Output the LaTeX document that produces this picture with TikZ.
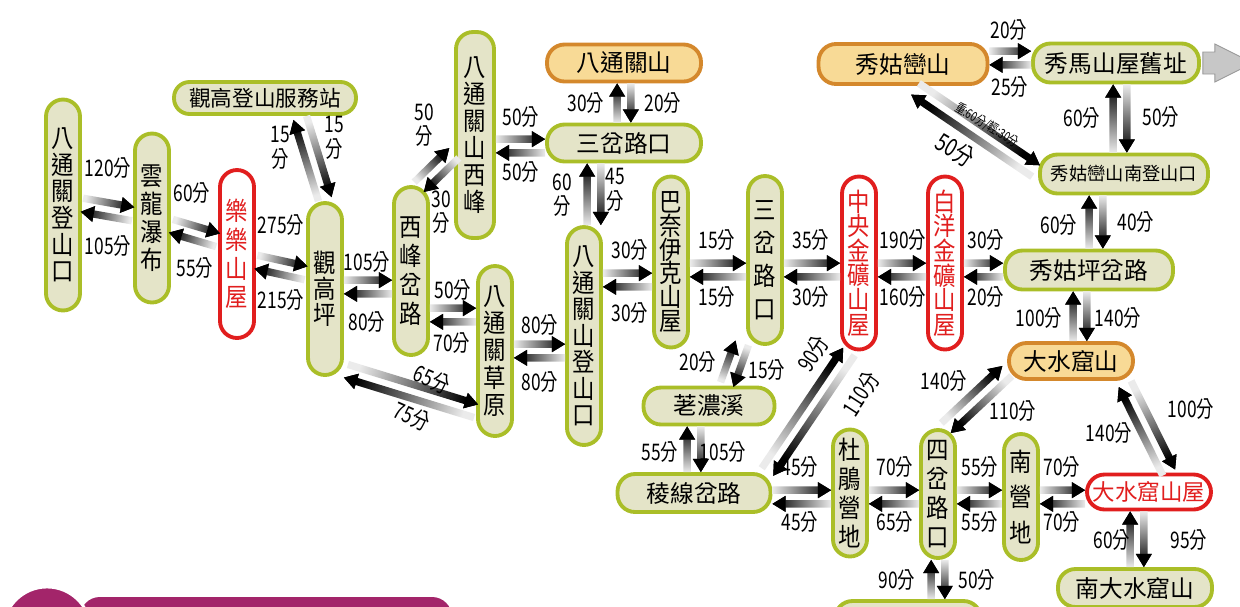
\documentclass[tikz,border=0pt]{standalone}
\usepackage{fontspec}
\newfontfamily\nodefam{Noto Sans CJK TC}
\newfontfamily\vertfam[FakeStretch=0.88]{Noto Sans CJK TC}
\newfontfamily\lblfam[FakeStretch=0.76]{Noto Sans CJK TC}
\usepackage{tikz}
\usetikzlibrary{calc}
\definecolor{olv}{RGB}{170,190,40}
\definecolor{pale}{RGB}{228,228,200}
\definecolor{hutred}{RGB}{225,30,30}
\definecolor{peakfill}{RGB}{248,218,150}
\definecolor{peakline}{RGB}{212,136,44}
\definecolor{plum}{RGB}{163,37,106}

% one shaded arrow, light tail to black head
\makeatletter
\newcommand\garr[2]{%
  \coordinate (gA) at (#1);
  \coordinate (gB) at (#2);
  \pgfmathanglebetweenpoints{\pgfpointanchor{gA}{center}}{\pgfpointanchor{gB}{center}}%
  \edef\gang{\pgfmathresult}%
  \pgfpointdiff{\pgfpointanchor{gA}{center}}{\pgfpointanchor{gB}{center}}%
  \edef\gdx{\the\pgf@x}\edef\gdy{\the\pgf@y}%
  \pgfmathsetmacro\glen{veclen(\gdx,\gdy)}%
  \pgfmathsetmacro\gsh{\gang+90}%
  \shade[left color=black!8, right color=black, shading angle=\gsh, shift={(gA)}, rotate=\gang]
    (0pt,-2.1pt) -- ({\glen pt-7.5pt},-2.1pt) -- ({\glen pt-7.5pt},-4.6pt) -- (\glen pt,0pt)
    -- ({\glen pt-7.5pt},4.6pt) -- ({\glen pt-7.5pt},2.1pt) -- (0pt,2.1pt) -- cycle;
  \fill[shift={(gA)}, rotate=\gang]
    ({\glen pt-7.5pt},-4.6pt) -- (\glen pt,0pt) -- ({\glen pt-7.5pt},4.6pt) -- cycle;
}
\makeatother
% two arrows side by side, one each way
\newcommand\gpair[2]{%
  \coordinate (pA) at (#1);
  \coordinate (pB) at (#2);
  \garr{$(pA)!3.9pt!90:(pB)$}{$(pB)!3.9pt!-90:(pA)$}
  \garr{$(pB)!3.9pt!90:(pA)$}{$(pA)!3.9pt!-90:(pB)$}
}

\tikzset{
  base/.style={draw=olv, line width=2.2pt, fill=pale, inner sep=0pt, align=center,
    font=\nodefam\fontsize{13.5}{15.5}\selectfont},
  vsp/.style={font=\vertfam\fontsize{14.5}{#1}\selectfont},
  vbox/.style={base, minimum width=0.68cm, minimum height=#1, rounded corners=0.34cm},
  hbox/.style={base, minimum height=0.76cm, minimum width=#1, rounded corners=0.35cm},
  hut/.style={draw=hutred, fill=white, text=hutred},
  peak/.style={draw=peakline, fill=peakfill},
  lbl/.style={font=\lblfam\fontsize{13}{14}\selectfont, inner sep=0pt, align=center},
}

\begin{document}
\begin{tikzpicture}[x=0.02cm, y=-0.02cm]
\useasboundingbox (0,0) rectangle (1240,606);

% purple title tab, cut by the page edge
\fill[plum, rounded corners=0.4cm] (80,597) rectangle (452,660);
\filldraw[fill=plum, draw=white, line width=1.6pt] (47,631) circle[radius=0.88cm];

% huts, junctions and peaks
\node[vbox=4.22cm, vsp=15.1] (bt) at (63,205) {八\\通\\關\\登\\山\\口};
\node[vbox=3.38cm, vsp=15.9] (yl) at (152,218) {雲\\龍\\瀑\\布};
\node[vbox=3.36cm, hut, vsp=16.4] (ll) at (237,254) {樂\\樂\\山\\屋};
\node[hbox=3.64cm, minimum height=0.64cm, rounded corners=0.31cm,
      font=\nodefam\fontsize{12.3}{14}\selectfont] (gs) at (265,98) {觀高登山服務站};
\node[vbox=3.44cm, vsp=14.7] (gg) at (325,289) {觀\\高\\坪};
\node[vbox=3.36cm, vsp=16.4] (xf) at (411,271) {西\\峰\\岔\\路};
\node[vbox=4.12cm, minimum width=0.76cm, vsp=15.3] (xfs) at (475,135) {八\\通\\關\\山\\西\\峰};
\node[hbox=3.08cm, minimum height=0.74cm, peak] (bts) at (624,63) {八通關山};
\node[hbox=3.08cm, minimum height=0.74cm] (sc1) at (624,143) {三岔路口};
\node[vbox=3.4cm, vsp=15.6] (cy) at (495,351) {八\\通\\關\\草\\原};
\node[vbox=4.36cm, vsp=15.1] (dk) at (584,336) {八\\通\\關\\山\\登\\山\\口};
\node[vbox=3.42cm, vsp=13.5] (bn) at (671,262) {巴\\奈\\伊\\克\\山\\屋};
\node[vbox=3.36cm, vsp=18.7] (sc2) at (765,260) {三\\岔\\路\\口};
\node[vbox=3.46cm, hut, vsp=14] (zy) at (859,263) {中\\央\\金\\礦\\山\\屋};
\node[vbox=3.46cm, hut, vsp=14] (by) at (945,263) {白\\洋\\金\\礦\\山\\屋};
\node[hbox=3.36cm, minimum height=0.78cm] (xp) at (1089,270) {秀姑坪岔路};
\node[hbox=3.36cm, minimum height=0.78cm,
      font=\nodefam\fontsize{10.4}{12}\selectfont] (xn) at (1124,174) {秀姑巒山南登山口};
\node[hbox=3.32cm, minimum height=0.78cm] (xm) at (1116,63) {秀馬山屋舊址};
\node[hbox=3.38cm, minimum height=0.8cm, peak] (xg) at (903,64) {秀姑巒山};
\node[hbox=2.48cm, minimum height=0.72cm, peak] (ds) at (1071,361) {大水窟山};
\node[hbox=2.62cm, minimum height=0.74cm] (ln) at (709,406) {荖濃溪};
\node[hbox=3.06cm] (lx) at (694,493) {稜線岔路};
\node[vbox=2.54cm, vsp=16.4] (dj) at (850,493) {杜\\鵑\\營\\地};
\node[vbox=2.56cm, vsp=16.4] (sj) at (938,494) {四\\岔\\路\\口};
\node[vbox=2.52cm, vsp=20] (ny) at (1021,497) {南\\營\\地};
\node[hbox=2.48cm, minimum height=0.7cm, hut,
      font=\nodefam\fontsize{12.8}{14}\selectfont] (dsw) at (1149,492) {大水窟山屋};
\node[hbox=3.08cm] (nds) at (1135,588) {南大水窟山};
\node[hbox=2.92cm] (bot) at (908,620) {};

% way on past 秀馬山屋舊址
\draw[fill=black!22, draw=black!40, line width=0.5pt] ($(xm.east)+(2,-11)$) -- ++(12,0)
  -- ++(0,-8) -- ++(38,19) -- ++(-38,19) -- ++(0,-8) -- ++(-12,0) -- cycle;

% walking times
\gpair{bt.east}{$(yl.west)+(0,-4)$}
\node[lbl] (t1a) at (108,168) {120分};
\node[lbl] (t1b) at (108,246) {105分};
\gpair{$(yl.east)+(0,8)$}{$(ll.west)+(0,-14)$}
\node[lbl] (t2a) at (192,193) {60分};
\node[lbl] (t2b) at (195,268) {55分};
\gpair{$(ll.east)+(0,8)$}{$(gg.west)+(0,-16)$}
\node[lbl] (t3a) at (281,225) {275分};
\node[lbl] (t3b) at (281,300) {215分};
\gpair{$(gs.south)+(35,2)$}{$(gg.north)+(0,-2)$}
\node[lbl] (t4a) at (280,148) {15\\分};
\node[lbl] (t4b) at (334,138) {15\\分};
\gpair{$(gg.east)+(0,-2)$}{$(xf.west)+(0,16)$}
\node[lbl] (t5a) at (367,262) {105分};
\node[lbl] (t5b) at (367,322) {80分};
\gpair{$(gg.east)+(2,82)$}{$(cy.west)+(0,60)$}
\node[lbl, rotate=-24] (t6a) at (432,379) {65分};
\node[lbl, rotate=-24] (t6b) at (412,416) {75分};
\gpair{$(xf.north)+(8,2)$}{$(xfs.west)+(0,18)$}
\node[lbl] (t7a) at (424,125) {50\\分};
\node[lbl] (t7b) at (441,212) {30\\分};
\gpair{$(xf.east)+(0,44)$}{$(cy.west)+(0,-36)$}
\node[lbl] (t8a) at (453,290) {50分};
\node[lbl] (t8b) at (452,343) {70分};
\gpair{$(xfs.east)+(0,11)$}{$(sc1.west)+(0,3)$}
\node[lbl] (t9a) at (521,117) {50分};
\node[lbl] (t9b) at (521,172) {50分};
\gpair{bts.south}{sc1.north}
\node[lbl] (t10a) at (586,103) {30分};
\node[lbl] (t10b) at (663,103) {20分};
\gpair{$(sc1.south)+(-30,0)$}{$(dk.north)+(10,0)$}
\node[lbl] (t11a) at (562,195) {60\\分};
\node[lbl] (t11b) at (615,190) {45\\分};
\gpair{cy.east}{$(dk.west)+(0,15)$}
\node[lbl] (t12a) at (540,325) {80分};
\node[lbl] (t12b) at (540,382) {80分};
\gpair{$(dk.east)+(0,-56)$}{$(bn.west)+(0,18)$}
\node[lbl] (t13a) at (630,250) {30分};
\node[lbl] (t13b) at (630,313) {30分};
\gpair{$(bn.east)+(0,8)$}{$(sc2.west)+(0,10)$}
\node[lbl] (t14a) at (717,240) {15分};
\node[lbl] (t14b) at (717,297) {15分};
\gpair{$(sc2.east)+(0,10)$}{$(zy.west)+(0,7)$}
\node[lbl] (t15a) at (811,240) {35分};
\node[lbl] (t15b) at (811,297) {30分};
\gpair{$(zy.east)+(0,7)$}{$(by.west)+(0,7)$}
\node[lbl] (t16a) at (903,240) {190分};
\node[lbl] (t16b) at (903,297) {160分};
\gpair{$(by.east)+(0,7)$}{xp.west}
\node[lbl] (t17a) at (986,240) {30分};
\node[lbl] (t17b) at (986,297) {20分};
\gpair{$(sc2.south)+(-23,-3)$}{$(ln.north)+(18,-1)$}
\node[lbl] (t18a) at (698,362) {20分};
\node[lbl] (t18b) at (767,370) {15分};
\gpair{$(lx.north east)+(-5,0)$}{$(zy.south)+(-10,0)$}
\node[lbl, rotate=57] (t19a) at (813,354) {90分};
\node[lbl, rotate=57] (t19b) at (861,394) {110分};
\gpair{$(ln.south)+(-15,0)$}{lx.north}
\node[lbl] (t20a) at (660,452) {55分};
\node[lbl] (t20b) at (723,452) {105分};
\gpair{$(lx.east)+(0,4)$}{$(dj.west)+(0,4)$}
\node[lbl] (t21a) at (800,467) {45分};
\node[lbl] (t21b) at (800,522) {45分};
\gpair{$(dj.east)+(0,4)$}{$(sj.west)+(0,3)$}
\node[lbl] (t22a) at (895,467) {70分};
\node[lbl] (t22b) at (895,522) {65分};
\gpair{$(sj.east)+(0,3)$}{ny.west}
\node[lbl] (t23a) at (980,467) {55分};
\node[lbl] (t23b) at (980,522) {55分};
\gpair{ny.east}{$(dsw.west)+(0,5)$}
\node[lbl] (t24a) at (1062,467) {70分};
\node[lbl] (t24b) at (1062,522) {70分};
\gpair{$(sj.north)+(8,0)$}{$(ds.south west)+(0,-10)$}
\node[lbl] (t25a) at (944,381) {140分};
\node[lbl] (t25b) at (1013,411) {110分};
\gpair{$(ds.south east)+(-10,3)$}{$(dsw.north)+(20,0)$}
\node[lbl] (t26a) at (1109,433) {140分};
\node[lbl] (t26b) at (1191,409) {100分};
\gpair{$(dsw.south)+(-12,0)$}{$(nds.north)+(2,0)$}
\node[lbl] (t27a) at (1112,540) {60分};
\node[lbl] (t27b) at (1189,540) {95分};
\gpair{sj.south}{$(bot.north)+(30,0)$}
\node[lbl] (t28a) at (897,580) {90分};
\node[lbl] (t28b) at (977,580) {50分};
\gpair{$(xp.south)+(-9,0)$}{$(ds.north)+(9,0)$}
\node[lbl] (t29a) at (1039,318) {100分};
\node[lbl] (t29b) at (1118,318) {140分};
\gpair{$(xn.south)+(-28,0)$}{$(xp.north)+(7,0)$}
\node[lbl] (t30a) at (1059,225) {60分};
\node[lbl] (t30b) at (1136,222) {40分};
\gpair{$(xm.south)+(4,0)$}{$(xn.north)+(-4,0)$}
\node[lbl] (t31a) at (1082,118) {60分};
\node[lbl] (t31b) at (1161,117) {50分};
\gpair{$(xg.east)+(0,-6)$}{$(xm.west)+(0,-5)$}
\node[lbl] (t32a) at (1009,30) {20分};
\node[lbl] (t32b) at (1010,87) {25分};
\gpair{$(xg.south)+(12,3)$}{$(xn.west)+(-2,-3)$}
\node[lbl, rotate=-31, font=\lblfam\fontsize{14}{15}\selectfont] (t33a) at (955,150) {50分};
\node[lbl, rotate=-31, font=\lblfam\fontsize{7.5}{8}\selectfont] (t33b) at (987,125) {重:60分/輕:30分};
\end{tikzpicture}
\end{document}
